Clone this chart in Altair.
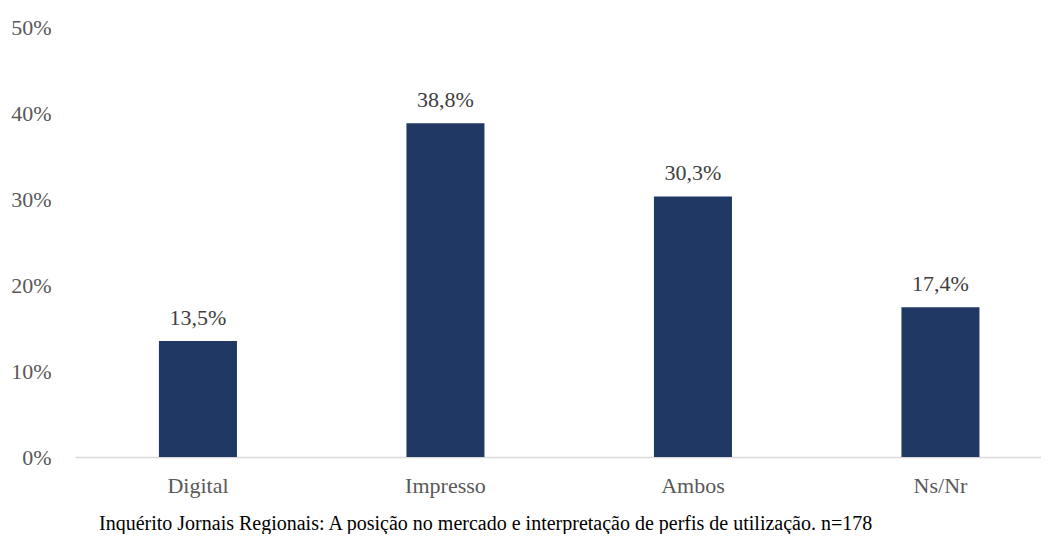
import altair as alt
import pandas as pd

categories = ["Digital", "Impresso", "Ambos", "Ns/Nr"]
values = [0.135, 0.388, 0.303, 0.174]
labels = ["13,5%", "38,8%", "30,3%", "17,4%"]
y_ticks = [0, 0.1, 0.2, 0.3, 0.4, 0.5]
title_text = "Preferência pelo jornal regional por suporte"
caption_text = "Inquérito Jornais Regionais: A posição no mercado e interpretação de perfis de utilização. n=178"

df = pd.DataFrame({"cat": categories, "val": values, "lab": labels})

FONT = "Liberation Serif"
W, H = 966, 430

x_enc = alt.X(
    "cat:N",
    sort=categories,
    scale=alt.Scale(paddingInner=0.6848, paddingOuter=0.2939, align=0.577),
    axis=alt.Axis(
        title=None, labelAngle=0, ticks=False, domainColor="#d9d9d9", domainWidth=1.5,
        labelFont=FONT, labelFontSize=22, labelColor="#595959", labelPadding=18,
    ),
)
y_enc = alt.Y(
    "val:Q",
    scale=alt.Scale(domain=[0, 0.5], nice=False),
    axis=alt.Axis(
        title=None, values=y_ticks, format=".0%", grid=False, ticks=False, domain=False,
        labelFont=FONT, labelFontSize=22, labelColor="#595959", labelPadding=24,
    ),
)

base = alt.Chart(df)
bars = base.mark_bar(color="#1f3864").encode(x=x_enc, y=y_enc)
text = base.mark_text(
    baseline="alphabetic", dy=-16, font=FONT, fontSize=22, color="#404040"
).encode(x=alt.X("cat:N", sort=categories), y="val:Q", text="lab:N")

title = alt.Chart(pd.DataFrame({"t": [title_text]})).mark_text(
    align="left", baseline="alphabetic", font=FONT, fontSize=20, fontWeight="bold", color="#000000"
).encode(x=alt.value(28), y=alt.value(-28), text="t:N")

caption = alt.Chart(pd.DataFrame({"t": [caption_text]})).mark_text(
    align="left", baseline="alphabetic", font=FONT, fontSize=20, color="#000000"
).encode(x=alt.value(24), y=alt.value(503), text="t:N")

chart = alt.layer(bars, text, title, caption).properties(
    width=W, height=H,
    autosize=alt.AutoSizeParams(type="none"),
    padding={"left": 67, "top": 19, "right": 0, "bottom": 77},
).configure_view(stroke=None)

chart.save("out.html", embed_options={"renderer": "svg", "actions": False})
